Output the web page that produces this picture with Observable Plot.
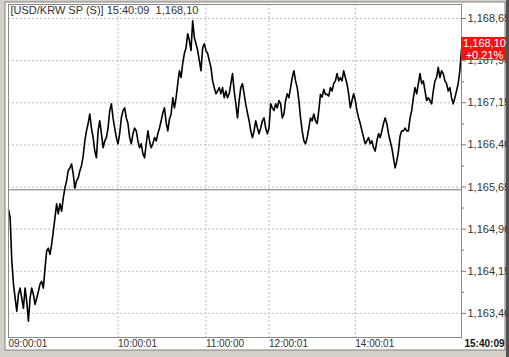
<!DOCTYPE html>
<html><head><meta charset="utf-8">
<script src="https://cdn.jsdelivr.net/npm/d3@7"></script>
<script src="https://cdn.jsdelivr.net/npm/@observablehq/plot@0.6"></script>
<style>body{margin:0;background:#d4d0c8;}#c{width:509px;height:357px;}</style>
</head><body><div id="c"></div>
<script>
const title = "[USD/KRW SP (S)] 15:40:09  1,168,10";
const lastTime = "15:40:09";
const prevClose = 1165.60;
const changeLabel = "+0,21%";
const yTicks = [1163.40, 1164.15, 1164.90, 1165.65, 1166.40, 1167.15, 1167.90, 1168.65];
const minorTicks = [1163.775, 1164.525, 1165.275, 1166.025, 1166.775, 1167.525, 1168.275];
const tickLabels = ["09:00:01", "10:00:01", "11:00:00", "12:00:01", "14:00:01"];
const tickIndex = [0, 66, 119, 157, 209];
const values = [
1165.25,1165.10,1164.33,1163.92,1163.67,1163.44,1163.74,1163.85,1163.67,1163.49,
1163.85,1163.61,1163.26,1163.67,1163.85,1163.74,1163.56,1163.67,1163.79,1163.92,
1163.97,1163.85,1164.20,1164.51,1164.56,1164.45,1164.63,1164.86,1165.10,1165.35,
1165.17,1165.35,1165.22,1165.45,1165.63,1165.76,1165.94,1165.99,1166.06,1165.88,
1165.63,1165.76,1165.81,1165.94,1166.03,1166.20,1166.47,1166.65,1166.78,1166.95,
1166.70,1166.53,1166.29,1166.17,1166.65,1166.83,1166.60,1166.35,1166.47,1166.53,
1166.70,1167.01,1167.13,1166.88,1166.70,1166.53,1166.42,1166.60,1166.88,1167.01,
1167.06,1166.88,1166.78,1166.53,1166.42,1166.60,1166.70,1166.65,1166.47,1166.35,
1166.42,1166.24,1166.17,1166.42,1166.65,1166.47,1166.35,1166.42,1166.53,1166.47,
1166.60,1166.70,1166.83,1166.97,1167.06,1166.80,1166.65,1166.86,1166.95,1167.24,
1167.06,1167.24,1167.49,1167.72,1167.60,1167.85,1168.03,1168.13,1168.38,1168.26,
1168.08,1168.61,1168.31,1168.20,1168.08,1167.90,1167.72,1168.13,1168.20,1168.08,
1168.03,1167.90,1167.78,1167.54,1167.42,1167.31,1167.36,1167.42,1167.31,1167.42,
1167.24,1167.36,1167.24,1167.31,1167.49,1167.67,1167.36,1167.13,1166.88,1167.19,
1167.42,1167.49,1167.31,1167.12,1166.97,1166.83,1166.65,1166.53,1166.65,1166.83,
1166.70,1166.60,1166.70,1166.83,1166.88,1166.70,1166.60,1166.70,1167.13,1167.06,
1167.01,1167.13,1167.06,1167.19,1167.13,1166.88,1166.95,1167.19,1167.31,1167.24,
1167.42,1167.60,1167.72,1167.54,1167.42,1167.19,1166.88,1166.65,1166.47,1166.42,
1166.53,1166.70,1166.88,1166.83,1166.95,1166.83,1166.78,1167.01,1167.30,1167.25,
1167.39,1167.30,1167.30,1167.27,1167.42,1167.36,1167.49,1167.54,1167.67,1167.54,
1167.60,1167.54,1167.72,1167.60,1167.49,1167.31,1167.06,1167.19,1167.31,1167.19,
1167.01,1166.88,1166.78,1166.65,1166.53,1166.42,1166.47,1166.53,1166.42,1166.47,
1166.35,1166.29,1166.47,1166.60,1166.53,1166.65,1166.78,1166.88,1166.78,1166.60,
1166.47,1166.35,1166.17,1165.99,1166.11,1166.29,1166.56,1166.65,1166.65,1166.70,
1166.65,1166.65,1166.88,1167.01,1167.24,1167.42,1167.31,1167.49,1167.67,1167.49,
1167.54,1167.36,1167.19,1167.24,1167.19,1167.13,1167.36,1167.54,1167.60,1167.78,
1167.60,1167.72,1167.67,1167.54,1167.49,1167.36,1167.42,1167.24,1167.13,1167.24,
1167.36,1167.49,1167.72,1168.10
];

const fmt = v => d3.format(",.2f")(v).replace(".", "#").replace("#", ",");
const data = values.map((v, i) => ({i, v}));
const lastIdx = values.length - 1;
const last = values[lastIdx];
const labelMap = new Map(tickIndex.map((t, k) => [t, tickLabels[k]]));

const chart = Plot.plot({
  width: 509, height: 357,
  marginLeft: 8, marginRight: 48, marginTop: 4, marginBottom: 20,
  style: {background: "transparent", fontFamily: "'Liberation Sans', Arial, sans-serif", fontSize: "10px", color: "#333"},
  x: {domain: [0, lastIdx], axis: null, label: null},
  y: {domain: [1162.97, 1168.90], axis: null, label: null},
  marks: [
    Plot.gridY(yTicks, {stroke: "#bdbdbd", strokeOpacity: 1, strokeDasharray: "2,2"}),
    Plot.gridX(tickIndex.slice(1), {stroke: "#bdbdbd", strokeOpacity: 1, strokeDasharray: "2,2"}),
    Plot.ruleY([prevClose], {stroke: "#707070", strokeWidth: 1}),
    Plot.line(data, {x: "i", y: "v", stroke: "#000", strokeWidth: 1.6}),
    Plot.frame({stroke: "#8a8a8a"}),
    Plot.axisY(yTicks, {anchor: "right", label: null, tickSize: 4, tickPadding: 2, tickFormat: fmt, fontSize: 11, fill: "#333", stroke: "#777"}),
    Plot.axisY(minorTicks, {anchor: "right", label: null, tickSize: 2, tickFormat: () => "", stroke: "#777"}),
    Plot.axisX(tickIndex, {anchor: "bottom", label: null, tickSize: 0, tickPadding: 2, textAnchor: "start", tickFormat: d => labelMap.get(d), fontSize: 10, fill: "#333"}),
    Plot.text([lastTime], {frameAnchor: "bottom-right", dx: 43, dy: 9, textAnchor: "end", fontWeight: "bold", fontSize: 10, fill: "#111"}),
    Plot.text([title], {frameAnchor: "top-left", dx: 2, dy: 2, textAnchor: "start", lineAnchor: "top", fontSize: 11, fill: "#333"}),
    Plot.rect([last], {x1: lastIdx, x2: lastIdx, y1: d => d, y2: d => d, insetTop: -12, insetBottom: -11, insetRight: -48, fill: "#f01414"}),
    Plot.text([fmt(last) + "\n" + changeLabel], {x: lastIdx, y: last, dx: 23, fill: "#fff", fontSize: 11, lineHeight: 1.05})
  ]
});

const svg = d3.select(chart);
svg.insert("rect", ":first-child").attr("x", 5).attr("y", 2).attr("width", 500).attr("height", 348).attr("fill", "#fff").attr("stroke", "#808080");
svg.append("rect").attr("x", 506).attr("y", 0).attr("width", 3).attr("height", 357).attr("fill", "#505050");
document.getElementById("c").appendChild(chart);
</script>
</body></html>
